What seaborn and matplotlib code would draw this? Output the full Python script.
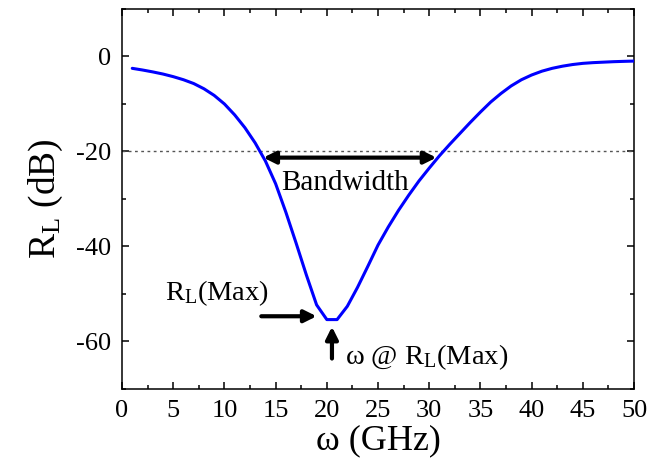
import numpy as np
import pandas as pd
import matplotlib
matplotlib.use("Agg")
import matplotlib.pyplot as plt
import seaborn as sns
from matplotlib.ticker import MultipleLocator

# ---- data ----
freq_ghz = [1, 2, 3, 4, 5, 6, 7, 8, 9, 10,
            11, 12, 13, 14, 15, 16, 17, 18, 19, 20,
            21, 22, 23, 24, 25, 26, 27, 28, 29, 30,
            31, 32, 33, 34, 35, 36, 37, 38, 39, 40,
            41, 42, 43, 44, 45, 46, 47, 48, 49, 50]
rl_db = [-2.5, -2.85, -3.25, -3.7, -4.25, -4.9, -5.7, -6.8, -8.2, -10.0,
         -12.3, -15.0, -18.2, -22.0, -26.8, -32.8, -39.3, -46.0, -52.3, -55.4,
         -55.4, -52.6, -48.6, -44.2, -39.7, -35.9, -32.4, -29.2, -26.2, -23.5,
         -20.9, -18.5, -16.2, -13.9, -11.7, -9.6, -7.8, -6.2, -4.9, -3.9,
         -3.1, -2.5, -2.05, -1.7, -1.45, -1.3, -1.2, -1.1, -1.03, -0.97]
threshold_db = -20
bw_low, bw_high, bw_level = 13.8, 30.7, -21.3
x_ticks = [0, 5, 10, 15, 20, 25, 30, 35, 40, 45, 50]
y_ticks = [0, -20, -40, -60]

df = pd.DataFrame({"freq": freq_ghz, "rl": rl_db})

sns.set_style("ticks")
plt.rcParams["font.family"] = ["Liberation Serif", "DejaVu Serif"]
plt.rcParams["mathtext.fontset"] = "custom"
plt.rcParams["mathtext.rm"] = "Liberation Serif"
plt.rcParams["mathtext.it"] = "Liberation Serif:italic"
plt.rcParams["axes.unicode_minus"] = False
for k in ["text.color", "axes.labelcolor", "xtick.color", "ytick.color", "axes.edgecolor"]:
    plt.rcParams[k] = "black"

fig = plt.figure(figsize=(6.49, 4.72), dpi=100)
ax = fig.add_axes([0.188, 0.176, 0.789, 0.805])

ax.axhline(threshold_db, color="#555555", lw=1.0, ls=(0, (2, 2.5)), zorder=1)
sns.lineplot(data=df, x="freq", y="rl", ax=ax, color="#0000FF", lw=2.2, zorder=3)

ax.set_xlim(0, 50)
ax.set_ylim(-70, 10)
ax.set_xticks(x_ticks)
ax.set_yticks(y_ticks)
ax.set_xticklabels([str(v) for v in x_ticks])
ax.set_yticklabels([str(v) for v in y_ticks])
ax.xaxis.set_minor_locator(MultipleLocator(2.5))
ax.yaxis.set_minor_locator(MultipleLocator(10))
ax.tick_params(which="both", direction="in", top=True, right=True,
               width=1.1, colors="black", labelcolor="black")
ax.tick_params(which="major", length=5, labelsize=19, pad=8)
ax.tick_params(which="minor", length=3)
for s in ax.spines.values():
    s.set_linewidth(1.1)
    s.set_color("black")

ax.set_xlabel("ω (GHz)", fontsize=26, labelpad=2, color="black")
ax.set_ylabel(r"R$_\mathregular{L}$ (dB)", fontsize=27, labelpad=8, color="black")

arrow_kw = dict(arrowstyle="-|>", color="black", lw=3, mutation_scale=18,
                shrinkA=0, shrinkB=0)
ax.annotate("", xy=(bw_low, bw_level), xytext=(bw_high, bw_level),
            arrowprops=dict(arrowstyle="<|-|>", color="black", lw=3,
                            mutation_scale=18, shrinkA=0, shrinkB=0))
ax.text(21.8, -24.0, "Bandwidth", fontsize=21, ha="center", va="top", color="black")

ax.annotate("", xy=(19.0, -54.7), xytext=(13.6, -54.7), arrowprops=arrow_kw)
ax.text(4.2, -51.2, r"R$_\mathregular{L}$(Max)", fontsize=20.5, ha="left",
        va="baseline", color="black")

ax.annotate("", xy=(20.5, -56.9), xytext=(20.5, -63.6), arrowprops=arrow_kw)
ax.text(21.8, -64.8, r"ω @ R$_\mathregular{L}$(Max)", fontsize=20.5, ha="left",
        va="baseline", color="black")

fig.savefig("out.png", dpi=100)
